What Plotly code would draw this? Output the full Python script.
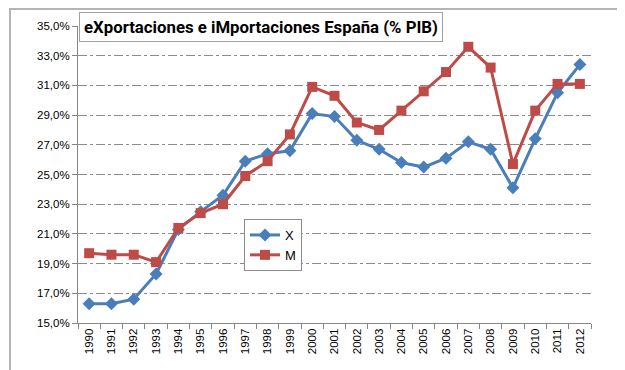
import plotly.graph_objects as go

years = [str(y) for y in range(1990, 2013)]
exports = [16.3, 16.3, 16.6, 18.3, 21.3, 22.5, 23.6, 25.9, 26.4, 26.6, 29.1, 28.9,
           27.3, 26.7, 25.8, 25.5, 26.1, 27.2, 26.7, 24.1, 27.4, 30.5, 32.4]
imports = [19.7, 19.6, 19.6, 19.1, 21.4, 22.4, 23.0, 24.9, 25.9, 27.7, 30.9, 30.3,
           28.5, 28.0, 29.3, 30.6, 31.9, 33.6, 32.2, 25.7, 29.3, 31.1, 31.1]
title_text = "eXportaciones e iMportaciones España (% PIB)"

W, H = 625, 370
L, R, T, B = 70, 42, 18, 55
pw, ph = W - L - R, H - T - B

def px(x):
    return (x - L) / pw

def py(y):
    return (H - B - y) / ph

fig = go.Figure()
fig.add_trace(go.Scatter(x=years, y=exports, name="X", mode="lines+markers",
                         line=dict(color="#4A7EBB", width=3),
                         marker=dict(symbol="diamond", size=10, color="#4A7EBB")))
fig.add_trace(go.Scatter(x=years, y=imports, name="M", mode="lines+markers",
                         line=dict(color="#BE4B48", width=3),
                         marker=dict(symbol="square", size=10, color="#BE4B48")))

fig.update_layout(
    width=W, height=H,
    margin=dict(l=L, r=R, t=T, b=B),
    paper_bgcolor="white", plot_bgcolor="white",
    separators=",.",
    font=dict(family="Liberation Sans, Arial, sans-serif", size=11, color="#000000"),
    showlegend=True,
    legend=dict(x=px(236), y=py(211), xanchor="left", yanchor="top",
                bordercolor="#8c8c8c", borderwidth=1, bgcolor="white",
                font=dict(size=13), itemwidth=30, tracegroupgap=6),
    xaxis=dict(type="category", showgrid=False, showline=True, linecolor="#868686",
               linewidth=1, ticks="outside", tickson="boundaries", ticklen=5,
               tickcolor="#868686", tickangle=-90, tickfont=dict(size=11.5),
               range=[-0.5, 22.5]),
    yaxis=dict(range=[15, 35], dtick=2, tick0=15, tickformat=".1f", ticksuffix="%",
               showgrid=True, gridcolor="#8c8c8c", griddash="dashdot", gridwidth=1,
               showline=True, linecolor="#868686", ticks="outside", ticklen=5,
               tickcolor="#868686", tickfont=dict(size=11.5), zeroline=False),
    shapes=[dict(type="rect", xref="paper", yref="paper",
                 x0=px(2), x1=px(622), y0=py(366), y1=py(1),
                 line=dict(color="#b5b5b5", width=2), layer="below")],
    annotations=[dict(text="<b>" + title_text + "</b>", xref="paper", yref="paper",
                      x=px(253), y=py(19), xanchor="center", yanchor="middle",
                      showarrow=False, bgcolor="white", bordercolor="#a0a0a0",
                      borderwidth=1, borderpad=4,
                      font=dict(family="Liberation Sans Narrow, Roboto, sans-serif", size=16.8, color="#000000"))],
)

fig.write_html("out.html")
